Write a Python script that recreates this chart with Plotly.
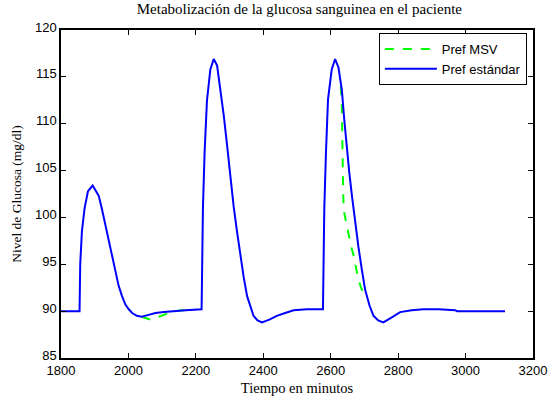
import plotly.graph_objects as go

# Pref estándar (blue)
t_std = [1800, 1855, 1857, 1862, 1870, 1880, 1894, 1903, 1912, 1922, 1932, 1942, 1952, 1962,
         1971, 1981, 1991, 2001, 2011, 2025, 2039, 2060, 2080, 2105, 2129, 2170, 2217,
         2218, 2221, 2226, 2233, 2243, 2253, 2263, 2273, 2283, 2292, 2302, 2312, 2322, 2332,
         2342, 2352, 2362, 2371, 2383, 2396, 2418, 2440, 2465, 2490, 2530, 2577,
         2578, 2581, 2586, 2592, 2603, 2613, 2623, 2633, 2640, 2648, 2655, 2663, 2672, 2682,
         2692, 2702, 2715, 2727, 2741, 2756, 2780, 2806, 2840, 2875, 2920, 2969, 2975, 3117]
v_std = [90.0, 90.0, 95.0, 98.5, 101.0, 102.8, 103.4, 102.9, 102.3, 100.8, 99.1, 97.5, 95.9, 94.2,
         92.7, 91.6, 90.7, 90.2, 89.8, 89.5, 89.4, 89.6, 89.8, 89.9, 90.0, 90.1, 90.2,
         93.0, 101.0, 107.0, 112.5, 115.8, 116.9, 116.2, 113.6, 110.8, 107.9, 104.5, 101.2, 98.5, 95.9,
         93.6, 91.6, 90.4, 89.5, 89.0, 88.8, 89.1, 89.5, 89.8, 90.1, 90.2, 90.2,
         93.0, 101.0, 107.0, 112.6, 115.8, 116.9, 116.0, 113.6, 110.5, 107.2, 104.8, 102.3, 99.6, 96.9,
         94.5, 92.3, 90.6, 89.5, 89.0, 88.8, 89.3, 89.9, 90.1, 90.2, 90.2, 90.1, 90.0, 90.0]

# Pref MSV (green dashed): visible only where it departs from the standard curve
# (None separates the two visible stretches)
t_msv = [2039, 2065, 2090, 2120, 2154, 2170, None,
         2630, 2633, 2636, 2638, 2645, 2653, 2660, 2668, 2675, 2682, 2690, 2697, 2702]
v_msv = [89.4, 89.1, 89.4, 89.8, 90.1, 90.1, None,
         114.0, 111.8, 105.0, 100.9, 99.6, 98.0, 97.0, 95.9, 94.6, 93.4, 92.5, 91.9, 92.3]

fig = go.Figure()
fig.add_trace(go.Scatter(x=t_msv, y=v_msv, mode="lines", name="Pref MSV", connectgaps=False,
                         line=dict(color="#00ff00", width=2, dash="dash")))
fig.add_trace(go.Scatter(x=t_std, y=v_std, mode="lines", name="Pref estándar",
                         line=dict(color="#0000ff", width=2)))

serif = "Liberation Serif, Times New Roman"
sans = "Liberation Sans, Arial"
axis_common = dict(showgrid=False, zeroline=False, showline=True, linecolor="black", linewidth=1.5,
                   mirror="ticks", ticks="inside", ticklen=5, tickcolor="black", automargin=False,
                   tickfont=dict(family=sans, size=13, color="black"))
fig.update_xaxes(range=[1800, 3200], dtick=200, tick0=1800, ticklabelstandoff=0,
                 title=dict(text="Tiempo en minutos", font=dict(family=serif, size=14.5, color="black"), standoff=6),
                 **axis_common)
fig.update_yaxes(range=[85, 120], dtick=5, tick0=85, ticklabelshift=-3,
                 title=dict(text="Nivel de Glucosa (mg/dl)", font=dict(family=serif, size=13.5, color="black"), standoff=10),
                 **axis_common)

fig.update_layout(
    width=549, height=396,
    margin=dict(l=61, r=16, t=30, b=38),
    paper_bgcolor="white", plot_bgcolor="white",
    title=dict(text="Metabolización de la glucosa sanguinea en el paciente",
               font=dict(family=serif, size=15, color="black"),
               x=0.505, xref="paper", xanchor="center", y=0.99, yanchor="top"),
    legend=dict(x=0.987, y=0.991, xanchor="right", yanchor="top", bgcolor="white",
                bordercolor="black", borderwidth=1,
                font=dict(family=sans, size=13, color="black"),
                tracegroupgap=0, itemwidth=52),
    showlegend=True,
)

fig.write_html("out.html", config={"displayModeBar": False},
               post_script="document.body.style.margin='0';document.body.style.overflow='hidden';")
